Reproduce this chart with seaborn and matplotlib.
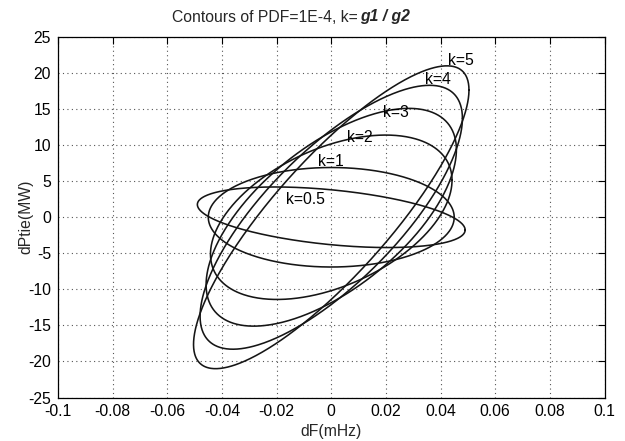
import numpy as np
import pandas as pd
import matplotlib
matplotlib.use("Agg")
import matplotlib.pyplot as plt
from matplotlib import font_manager
import seaborn as sns

# ---- data ----
k_labels = ["k=0.5", "k=1", "k=2", "k=3", "k=4", "k=5"]
x_extent = [0.049, 0.045, 0.0442, 0.0458, 0.048, 0.0504]   # max |dF| of each contour
y_extent = [4.2, 6.9, 11.4, 15.1, 18.3, 21.0]              # max |dPtie| of each contour
corr = [-0.42, 0.0, 0.45, 0.62, 0.75, 0.84]               # correlation (tilt) of each contour
label_x = [-0.0165, -0.0050, 0.0058, 0.0190, 0.0342, 0.0428]
label_y = [2.5, 7.7, 11.0, 14.5, 19.1, 21.8]

x_ticks = [-0.1, -0.08, -0.06, -0.04, -0.02, 0, 0.02, 0.04, 0.06, 0.08, 0.1]
x_ticklabels = ["-0.1", "-0.08", "-0.06", "-0.04", "-0.02", "0", "0.02", "0.04", "0.06", "0.08", "0.1"]
y_ticks = [-25, -20, -15, -10, -5, 0, 5, 10, 15, 20, 25]
y_ticklabels = [str(v) for v in y_ticks]

# ---- style ----
sns.set_style("white")
try:
    font_manager.findfont("Liberation Sans Narrow", fallback_to_default=False)
    narrow = True
except Exception:
    narrow = False
plt.rcParams["font.family"] = ["Liberation Sans Narrow", "Liberation Sans", "DejaVu Sans"]
FS = 12.5 if narrow else 11.3
plt.rcParams["font.size"] = FS

fig = plt.figure(figsize=(6.25, 4.41), dpi=100)
ax = fig.add_axes([0.0928, 0.0986, 0.8744, 0.8175])

# Build contour curves (Gaussian PDF iso-contours = ellipses)
t = np.linspace(0, 2 * np.pi, 600)
rows = []
for lab, a, b, r in zip(k_labels, x_extent, y_extent, corr):
    xs = a * np.cos(t)
    ys = b * (r * np.cos(t) + np.sqrt(1 - r * r) * np.sin(t))
    rows.append(pd.DataFrame({"dF": xs, "dPtie": ys, "k": lab}))
df = pd.concat(rows, ignore_index=True)

for lab in k_labels:
    sub = df[df["k"] == lab]
    sns.lineplot(data=sub, x="dF", y="dPtie", sort=False, estimator=None,
                 color="#151515", linewidth=1.15, ax=ax)

for lab, lx, ly in zip(k_labels, label_x, label_y):
    ax.text(lx, ly, lab, ha="left", va="center", fontsize=FS, color="black")

ax.set_xlim(-0.1, 0.1)
ax.set_ylim(-25, 25)
ax.set_xticks(x_ticks)
ax.set_xticklabels(x_ticklabels)
ax.set_yticks(y_ticks)
ax.set_yticklabels(y_ticklabels)

ax.grid(True, color="#555555", linestyle=(0, (1, 3)), linewidth=0.8)
ax.tick_params(direction="in", length=5, width=0.8, top=True, right=True,
               labelsize=FS, pad=5, colors="black")
for s in ax.spines.values():
    s.set_color("black")
    s.set_linewidth(0.9)

ax.set_xlabel("dF(mHz)", fontsize=FS)
ax.set_ylabel("dPtie(MW)", fontsize=FS)
ax.xaxis.label.set_verticalalignment("center")
ax.yaxis.label.set_verticalalignment("center")
ax.xaxis.set_label_coords(0.5, -0.094)
ax.yaxis.set_label_coords(-0.0586, 0.5)

t1 = fig.text(172 / 625, 1 - 18 / 441, "Contours of PDF=1E-4, k=", ha="left", va="center", fontsize=FS)
fig.canvas.draw()
bb = t1.get_window_extent(renderer=fig.canvas.get_renderer())
fig.text((bb.x1 + 2) / 625, 1 - 17 / 441, "g1 / g2", ha="left", va="center", fontsize=FS,
         fontweight="bold", fontstyle="italic")

fig.savefig("out.png", dpi=100)
